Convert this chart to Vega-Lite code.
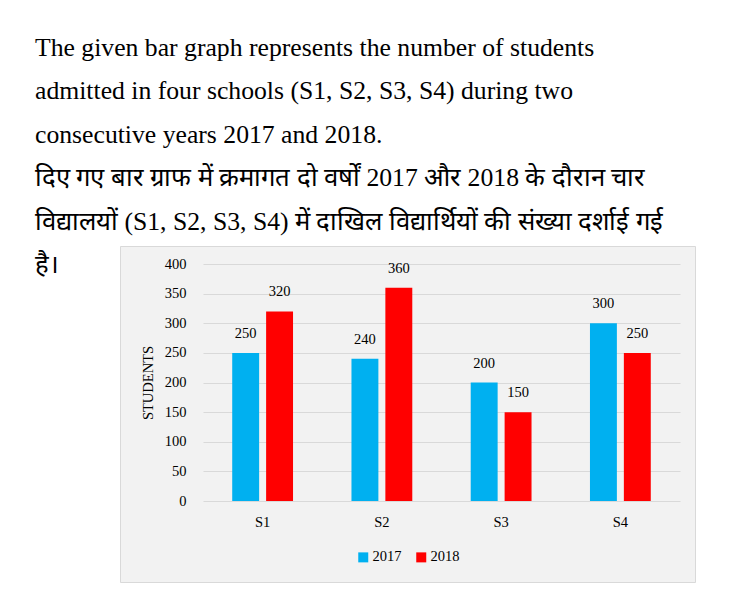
{
  "$schema": "https://vega.github.io/schema/vega-lite/v6.json",
  "width": 575,
  "height": 336,
  "autosize": {"type": "none"},
  "padding": {"left": 120, "top": 246, "right": 37, "bottom": 10},
  "background": "#ffffff",
  "title": {
    "text": [
      "The given bar graph represents the number of students",
      "admitted in four schools (S1, S2, S3, S4) during two",
      "consecutive years 2017 and 2018.",
      "दिए गए बार ग्राफ में क्रमागत दो वर्षों 2017 और 2018 के दौरान चार",
      "विद्यालयों (S1, S2, S3, S4) में दाखिल विद्यार्थियों की संख्या दर्शाई गई",
      "है।"
    ],
    "anchor": "start",
    "frame": "group",
    "orient": "top",
    "baseline": "top",
    "offset": -33,
    "dx": -85,
    "font": "Liberation Serif",
    "fontSize": 25.7,
    "fontWeight": "normal",
    "lineHeight": 43.5,
    "color": "#000000"
  },
  "data": {
    "values": [
      {"school": "S1", "year": "2017", "students": 250},
      {"school": "S1", "year": "2018", "students": 320},
      {"school": "S2", "year": "2017", "students": 240},
      {"school": "S2", "year": "2018", "students": 360},
      {"school": "S3", "year": "2017", "students": 200},
      {"school": "S3", "year": "2018", "students": 150},
      {"school": "S4", "year": "2017", "students": 300},
      {"school": "S4", "year": "2018", "students": 250}
    ]
  },
  "encoding": {
    "x": {
      "field": "school",
      "type": "nominal",
      "sort": ["S1", "S2", "S3", "S4"],
      "scale": {"range": [83, 560], "paddingInner": 0.49, "paddingOuter": 0.245},
      "axis": {
        "title": null,
        "orient": "bottom",
        "offset": -81,
        "domain": false,
        "ticks": false,
        "tickSize": 0,
        "labelPadding": 14,
        "labelAngle": 0,
        "labelFont": "Liberation Serif",
        "labelFontSize": 14.5,
        "labelColor": "#000000",
        "grid": false
      }
    },
    "xOffset": {
      "field": "year",
      "type": "nominal",
      "scale": {"paddingInner": 0.206, "paddingOuter": 0}
    },
    "y": {
      "field": "students",
      "type": "quantitative",
      "scale": {"domain": [0, 400], "range": [255, 18], "nice": false, "zero": true},
      "axis": {
        "title": "STUDENTS",
        "values": [0, 50, 100, 150, 200, 250, 300, 350, 400],
        "offset": -83,
        "domain": false,
        "ticks": false,
        "tickSize": 0,
        "labelPadding": 17,
        "labelFont": "Liberation Serif",
        "labelFontSize": 14.5,
        "labelColor": "#000000",
        "titleFont": "Liberation Serif",
        "titleFontSize": 14.5,
        "titleFontWeight": "normal",
        "titleColor": "#000000",
        "titlePadding": 9,
        "grid": true,
        "gridColor": "#d9d9d9",
        "gridWidth": 1
      }
    }
  },
  "layer": [
    {
      "mark": {"type": "bar"},
      "encoding": {
        "color": {
          "field": "year",
          "type": "nominal",
          "scale": {"domain": ["2017", "2018"], "range": ["#00b0f0", "#ff0000"]},
          "legend": {
            "title": null,
            "orient": "none",
            "direction": "horizontal",
            "legendX": 236,
            "legendY": 304,
            "padding": 0,
            "symbolType": "square",
            "symbolSize": 100,
            "symbolStrokeWidth": 0,
            "labelOffset": 2,
            "columnPadding": 12,
            "labelFont": "Liberation Serif",
            "labelFontSize": 14.5,
            "labelColor": "#000000"
          }
        }
      }
    },
    {
      "mark": {
        "type": "text",
        "baseline": "middle",
        "align": "center",
        "dy": -19,
        "font": "Liberation Serif",
        "fontSize": 14.5,
        "color": "#000000"
      },
      "encoding": {
        "text": {"field": "students", "type": "quantitative"}
      }
    }
  ],
  "config": {
    "view": {"fill": "#f2f2f2", "stroke": "#d9d9d9", "strokeWidth": 1}
  }
}
